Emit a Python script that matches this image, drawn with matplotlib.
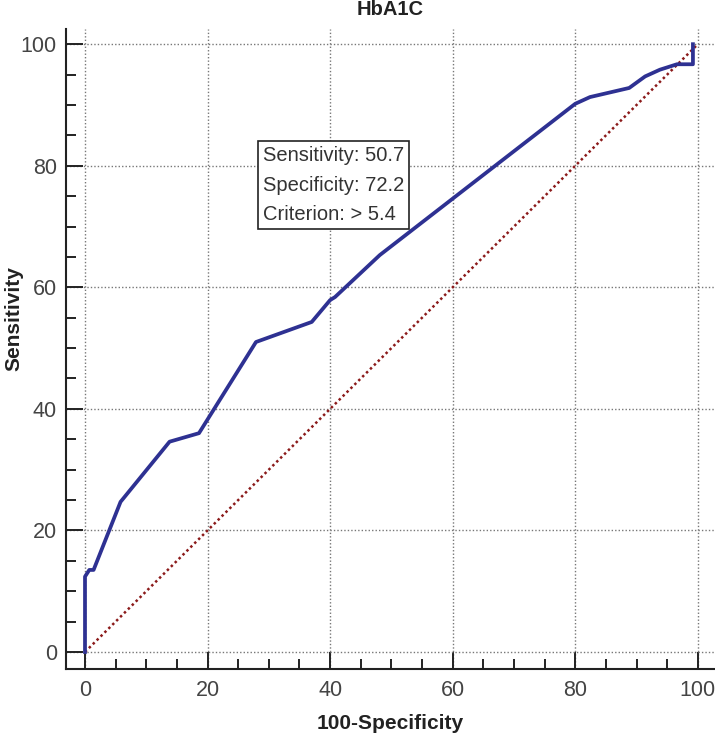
import matplotlib.pyplot as plt
from matplotlib.ticker import MultipleLocator

plt.rcParams['font.family'] = ['Liberation Sans', 'DejaVu Sans']

# ROC curve points (100-Specificity, Sensitivity)
fpr = [0, 0, 0.7, 1.4, 5.8, 13.8, 18.6, 27.9, 37.0, 40.0, 40.8, 48.1,
       80.0, 82.4, 88.8, 91.4, 93.8, 96.6, 99.2, 99.2]
tpr = [0, 12.4, 13.5, 13.5, 24.7, 34.6, 36.0, 51.0, 54.3, 57.9, 58.4, 65.3,
       90.2, 91.3, 92.8, 94.7, 95.8, 96.7, 96.7, 100]
diag = [0, 100]

title = "HbA1C"
box_lines = ["Sensitivity: 50.7", "Specificity: 72.2", "Criterion: > 5.4"]

fig = plt.figure(figsize=(7.15, 7.4), dpi=100)
ax = fig.add_axes([66 / 715, 71 / 740, 649 / 715, 640 / 740])

ax.plot(diag, diag, color='#8b1a1a', lw=1.8, ls=(0, (1, 1.2)), zorder=2)
ax.plot(fpr, tpr, color='#2e3192', lw=2.7, zorder=3, solid_joinstyle='round')

ax.set_xlim(-3.1, 102.8)
ax.set_ylim(-2.8, 102.5)
ax.xaxis.set_major_locator(MultipleLocator(20))
ax.yaxis.set_major_locator(MultipleLocator(20))
ax.xaxis.set_minor_locator(MultipleLocator(5))
ax.yaxis.set_minor_locator(MultipleLocator(5))

for s in ['top', 'right']:
    ax.spines[s].set_visible(False)
for s in ['left', 'bottom']:
    ax.spines[s].set_linewidth(1.5)
    ax.spines[s].set_color('#222222')

ax.tick_params(which='major', direction='in', length=12.5, width=1.4,
               color='#222222', labelsize=15.5, labelcolor='#444444')
ax.tick_params(which='minor', direction='in', length=7, width=1.4, color='#222222')
ax.tick_params(axis='x', which='major', pad=8)
ax.tick_params(axis='y', which='major', pad=6.5)

ax.grid(True, which='major', color='#777777', ls=(0, (1, 1.5)), lw=1.0)

ax.set_xlabel("100-Specificity", fontsize=15, fontweight='bold', color='#222222')
ax.xaxis.set_label_coords(0.5, -0.07)
ax.set_ylabel("Sensitivity", fontsize=15, fontweight='bold', color='#222222')
ax.yaxis.set_label_coords(-0.066, 0.548)
ax.set_title(title, fontsize=14.5, fontweight='bold', color='#222222', pad=10)

ax.text(29.0, 83.2, "\n".join(box_lines), fontsize=14.5, va='top', ha='left',
        color='#333333', linespacing=1.68, zorder=4,
        bbox=dict(boxstyle='square,pad=0.25', fc='white', ec='#222222', lw=1.2))

plt.savefig("out.png", dpi=100)
